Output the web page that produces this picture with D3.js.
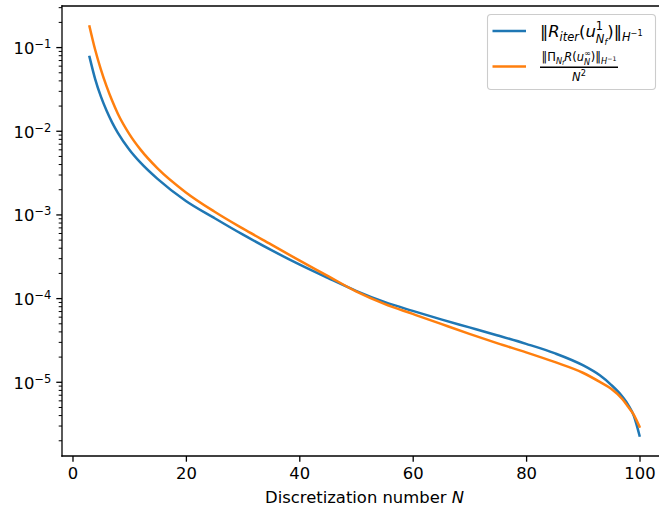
<!DOCTYPE html>
<html><head><meta charset="utf-8">
<script src="https://cdn.jsdelivr.net/npm/d3@7"></script>
<style>
html,body{margin:0;padding:0;background:#fff;}
text{font-family:"DejaVu Sans",sans-serif;}
</style></head>
<body><svg id="c" width="659" height="512"></svg>
<script>
// ---- data ----
const N = [3,4,5,6,7,8,10,12,15,20,25,30,35,40,45,50,55,60,65,70,75,80,85,90,93,95,97,98,99,100];
const iterResidual = [7.74e-2,4.20e-2,2.61e-2,1.77e-2,1.27e-2,9.59e-3,6.07e-3,4.22e-3,2.70e-3,1.47e-3,9.21e-4,5.85e-4,3.82e-4,2.56e-4,1.77e-4,1.24e-4,9.13e-5,7.13e-5,5.64e-5,4.53e-5,3.63e-5,2.88e-5,2.23e-5,1.60e-5,1.21e-5,9.33e-6,6.71e-6,5.38e-6,3.98e-6,2.31e-6];
const projResidual = [1.79e-1,9.41e-2,5.49e-2,3.46e-2,2.31e-2,1.62e-2,9.31e-3,6.03e-3,3.60e-3,1.86e-3,1.10e-3,6.90e-4,4.44e-4,2.86e-4,1.87e-4,1.22e-4,8.65e-5,6.56e-5,4.98e-5,3.79e-5,2.92e-5,2.28e-5,1.75e-5,1.30e-5,1.01e-5,8.36e-6,6.27e-6,5.09e-6,4.08e-6,2.95e-6];
const xTicks = [0,20,40,60,80,100];
const yTickExps = [-1,-2,-3,-4,-5];
const xLabel = "Discretization number ";
const colors = ["#1f77b4","#ff7f0e"];

// ---- layout ----
const svg = d3.select("#c");
const L = 62, R = 667, T = 6, B = 456;
const x = d3.scaleLinear().domain([-1.85, 104.85]).range([L, R]);
const y = d3.scaleLog().domain([Math.pow(10,-5.881), Math.pow(10,-0.503)]).range([B, T]);
const FS = 16.4, TL = 5.7, TW = 1.3;

svg.append("defs").append("clipPath").attr("id","clip")
  .append("rect").attr("x",L).attr("y",T).attr("width",R-L).attr("height",B-T);

// lines
const series = [iterResidual, projResidual];
const line = d3.line().x((d,i)=>x(N[i])).y(d=>y(d)).curve(d3.curveMonotoneX);
series.forEach((s,k)=>{
  svg.append("path").datum(s).attr("d",line).attr("fill","none")
    .attr("stroke",colors[k]).attr("stroke-width",2.5).attr("stroke-linecap","square")
    .attr("clip-path","url(#clip)");
});

// x axis
const xAxis = d3.axisBottom(x).tickValues(xTicks).tickSize(TL).tickPadding(5.5).tickFormat(d3.format("d"));
const gx = svg.append("g").attr("transform",`translate(0,${B})`).call(xAxis);
gx.select(".domain").remove();
gx.selectAll("line").attr("stroke","#000").attr("stroke-width",TW);
gx.selectAll("text").attr("font-size",FS).attr("fill","#000").attr("font-family","DejaVu Sans");

// y axis major + minor ticks
const gy = svg.append("g");
const minor = [];
for (let e=-6;e<=0;e++) for (let m=2;m<=9;m++){ const v=m*Math.pow(10,e); if (v>y.domain()[0] && v<y.domain()[1]) minor.push(v); }
gy.selectAll("line.mn").data(minor).enter().append("line")
  .attr("x1",L).attr("x2",L-3.3).attr("y1",d=>y(d)).attr("y2",d=>y(d))
  .attr("stroke","#000").attr("stroke-width",1.0);
yTickExps.forEach(e=>{
  const v = Math.pow(10,e), yy = y(v);
  gy.append("line").attr("x1",L).attr("x2",L-TL).attr("y1",yy).attr("y2",yy)
    .attr("stroke","#000").attr("stroke-width",TW);
  const t = gy.append("text").attr("text-anchor","end").attr("font-size",FS).attr("fill","#000")
    .attr("x",L-TL-5).attr("y",yy+6.5);
  t.append("tspan").text("10");
  t.append("tspan").attr("font-size",FS*0.7).attr("dy",-6).text("\u2212"+(-e));
});

// spines
[[L,T,L,B],[L,B,R,B],[L,T,R,T],[R,T,R,B]].forEach(c=>{
  svg.append("line").attr("x1",c[0]).attr("y1",c[1]).attr("x2",c[2]).attr("y2",c[3])
    .attr("stroke","#000").attr("stroke-width",TW).attr("stroke-linecap","square");
});

// x label
const xl = svg.append("text").attr("x",(L+R)/2).attr("y",503).attr("text-anchor","middle").attr("font-size",FS).attr("fill","#000");
xl.append("tspan").text(xLabel);
xl.append("tspan").attr("font-style","italic").text("N");

// ---- math layout helper ----
function mathRun(g, x0, y0, pieces, measureOnly){
  let cx = x0, stackX = null, maxX = x0;
  const tmp = g.append("g");
  pieces.forEach(p=>{
    const sx = (p.stack && stackX!==null) ? stackX : cx;
    const t = tmp.append("text").attr("x",sx).attr("y",y0+(p.dy||0))
      .attr("font-size",p.s).attr("fill","#000")
      .attr("font-style",p.it?"italic":"normal").text(p.t);
    const w = t.node().getComputedTextLength();
    if (p.mark) stackX = sx;
    if (p.stack) { cx = Math.max(cx, sx + w); }
    else cx = sx + w;
    maxX = Math.max(maxX, cx);
  });
  if (measureOnly) { tmp.remove(); }
  return maxX - x0;
}

// legend
const lg = svg.append("g");
lg.append("rect").attr("x",487.5).attr("y",14.5).attr("width",168).attr("height",75).attr("rx",3.5)
  .attr("fill","#fff").attr("fill-opacity",0.8).attr("stroke","#cccccc").attr("stroke-width",1.1);
lg.append("line").attr("x1",492.5).attr("x2",526).attr("y1",31).attr("y2",31).attr("stroke",colors[0]).attr("stroke-width",2.5);
lg.append("line").attr("x1",492.5).attr("x2",526).attr("y1",66.5).attr("y2",66.5).attr("stroke",colors[1]).attr("stroke-width",2.5);

const s1=FS, s2=FS*0.7, s3=FS*0.5;
const entry1 = [
  {t:"\u2016",s:s1},
  {t:"R",s:s1,it:true},
  {t:"iter",s:s2,it:true,dy:3.5},
  {t:"(",s:s1},
  {t:"u",s:s1,it:true},
  {t:"1",s:s2,dy:-7.5,mark:true},
  {t:"N",s:s2,it:true,dy:6,stack:true},
  {t:"f",s:s3,it:true,dy:8},
  {t:")",s:s1},
  {t:"\u2016",s:s1},
  {t:"H",s:s2,it:true,dy:3.5},
  {t:"\u22121",s:s3,dy:-1}
];
mathRun(lg, 540, 37, entry1, false);

const n1=FS*0.7, n2=FS*0.5, n3=FS*0.38;
const num = [
  {t:"\u2016",s:n1},
  {t:"\u03A0",s:n1},
  {t:"N",s:n2,it:true,dy:2.5},
  {t:"f",s:n3,it:true,dy:4},
  {t:"R",s:n1,it:true},
  {t:"(",s:n1},
  {t:"u",s:n1,it:true},
  {t:"\u221E",s:n2,dy:-5.5,mark:true},
  {t:"N",s:n2,it:true,dy:4,stack:true},
  {t:")",s:n1},
  {t:"\u2016",s:n1},
  {t:"H",s:n2,it:true,dy:2.5},
  {t:"\u22121",s:n3,dy:0}
];
const fx0=540, fx1=618;
const wn = mathRun(lg, 0, 0, num, true);
mathRun(lg, (fx0+fx1)/2 - wn/2, 61, num, false);
lg.append("line").attr("x1",fx0).attr("x2",fx1).attr("y1",67.3).attr("y2",67.3).attr("stroke","#000").attr("stroke-width",1.4);
const den = [{t:"N",s:n1,it:true},{t:"2",s:n2,dy:-4.5}];
const wd = mathRun(lg, 0, 0, den, true);
mathRun(lg, (fx0+fx1)/2 - wd/2, 80.5, den, false);
</script></body></html>
